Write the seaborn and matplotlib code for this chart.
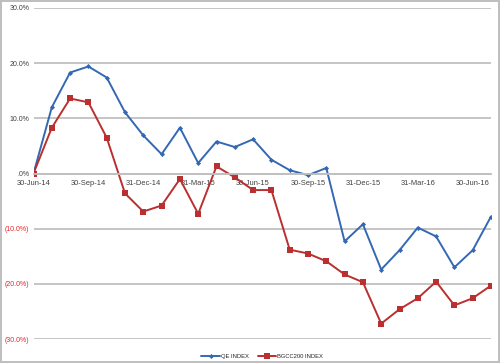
import matplotlib
matplotlib.use("Agg")
import matplotlib.pyplot as plt
import seaborn as sns
import pandas as pd

# month-end observations, 30-Jun-14 .. 31-Jul-16
months = pd.date_range("2014-06-30", periods=26, freq="ME")
qe_index = [0.0, 12.0, 18.3, 19.4, 17.4, 11.1, 6.9, 3.5, 8.3, 1.9, 5.8, 4.8, 6.2,
            2.5, 0.6, -0.3, 1.0, -12.3, -9.2, -17.4, -13.9, -9.8, -11.4, -17.0, -13.9, -7.8]
bgcc200_index = [0.0, 8.3, 13.6, 12.9, 6.5, -3.6, -6.9, -5.8, -1.0, -7.3, 1.3, -0.7, -3.0,
                 -3.0, -13.8, -14.5, -15.9, -18.3, -19.7, -27.2, -24.6, -22.6, -19.6, -23.9, -22.6, -20.3]
x_labels = ["30-Jun-14", "30-Sep-14", "31-Dec-14", "31-Mar-15", "30-Jun-15",
            "30-Sep-15", "31-Dec-15", "31-Mar-16", "30-Jun-16"]
y_ticks = [30, 20, 10, 0, -10, -20, -30]
y_labels = ["30.0%", "20.0%", "10.0%", ".0%", "(10.0%)", "(20.0%)", "(30.0%)"]

frame = pd.DataFrame({
    "pos": list(range(len(months))) * 2,
    "value": qe_index + bgcc200_index,
    "series": ["QE INDEX"] * len(months) + ["BGCC200 INDEX"] * len(months),
})

sns.set_style("white")
plt.rcParams["font.family"] = ["Liberation Sans", "DejaVu Sans"]

fig = plt.figure(figsize=(5, 3.63), dpi=100)
fig.patch.set_edgecolor("#BFBFBF")
fig.patch.set_linewidth(1.5)
ax = fig.add_axes([0.067, 0.066, 0.915, 0.912])

grid = "#C0C0C0"
for t in y_ticks:
    ax.axhline(t, color=grid, lw=1.3, zorder=0)

palette = {"QE INDEX": "#3468B4", "BGCC200 INDEX": "#BA2F2F"}
sns.lineplot(data=frame, x="pos", y="value", hue="series", style="series",
             palette=palette, markers={"QE INDEX": "D", "BGCC200 INDEX": "s"},
             dashes=False, lw=1.4, markersize=3.5, markeredgewidth=0, ax=ax)
for line in ax.lines:
    if line.get_marker() == "D":
        line.set_markersize(2.6)
    elif line.get_marker() == "s":
        line.set_markersize(4.2)

ax.set_xlim(0, 25)
ax.set_ylim(-30, 30)
ax.set_xlabel("")
ax.set_ylabel("")

for s in ["top", "right", "left"]:
    ax.spines[s].set_visible(False)
ax.spines["bottom"].set_position(("data", 0))
ax.spines["bottom"].set_color(grid)
ax.spines["bottom"].set_linewidth(1.3)

ax.set_xticks(range(0, 25, 3))
ax.set_xticklabels(x_labels, fontsize=5.4, color="#404040")
ax.tick_params(axis="x", length=0, pad=5)
ax.set_yticks(y_ticks)
ax.set_yticklabels(y_labels, fontsize=5.0)
ax.tick_params(axis="y", length=0, pad=3)
for lbl, t in zip(ax.get_yticklabels(), y_ticks):
    lbl.set_color("#E8262B" if t < 0 else "#404040")

handles, labels = ax.get_legend_handles_labels()
ax.legend(handles, labels, loc="lower center", bbox_to_anchor=(0.5, -0.075),
          ncol=2, frameon=False, fontsize=4.2, handlelength=3.2,
          columnspacing=1.5, handletextpad=0.2)

fig.savefig("out.png", dpi=100)
